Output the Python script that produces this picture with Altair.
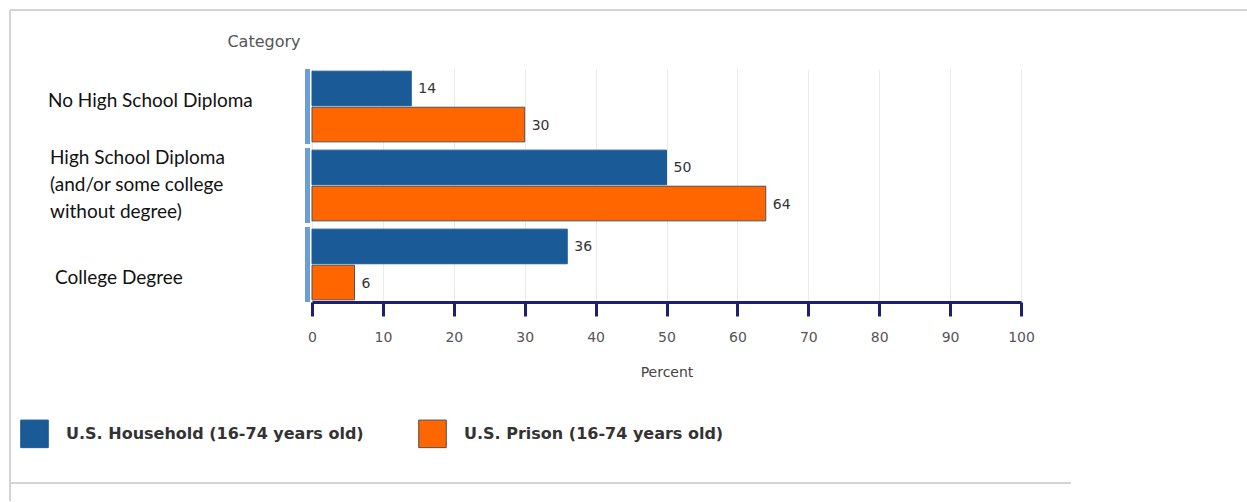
import altair as alt
import pandas as pd

categories = [
    "No High School Diploma",
    "High School Diploma (and/or some college without degree)",
    "College Degree",
]
category_labels = [
    "No High School Diploma",
    "High School Diploma\n(and/or some college\nwithout degree)",
    "College Degree",
]
series = ["U.S. Household (16-74 years old)", "U.S. Prison (16-74 years old)"]
household = [14, 50, 36]
prison = [30, 64, 6]
series_colors = ["#1a5a96", "#ff6600"]
series_strokes = ["#1a5a96", "#505050"]

rows = []
for c, h, p in zip(categories, household, prison):
    rows.append({"Category": c, "Series": series[0], "Percent": h})
    rows.append({"Category": c, "Series": series[1], "Percent": p})
df = pd.DataFrame(rows)
cat_df = pd.DataFrame({"Category": categories, "Label": category_labels})
one = pd.DataFrame({"a": [0]})

FONT = "DejaVu Sans"

y_scale = alt.Scale(domain=categories, paddingInner=0.05, paddingOuter=0)
y_enc = alt.Y(
    "Category:N",
    scale=y_scale,
    axis=alt.Axis(
        title="Category", labels=False, ticks=False, domain=False, grid=False,
        titleAngle=0, titleAlign="right", titleBaseline="middle",
        titleX=-12, titleY=-28, titleFont=FONT, titleFontSize=16,
        titleFontWeight="normal", titleColor="#555",
    ),
)
x_enc = alt.X(
    "Percent:Q",
    scale=alt.Scale(domain=[0, 100], nice=False),
    axis=alt.Axis(
        values=list(range(0, 101, 10)), title="Percent", grid=True,
        gridColor="#ebebeb", gridWidth=1,
        domainColor="#1f1f6f", domainWidth=3,
        tickColor="#1f1f6f", tickWidth=3, tickSize=14,
        labelFont=FONT, labelFontSize=14, labelColor="#555", labelPadding=14,
        labelFlush=False,
        titleFont=FONT, titleFontSize=14, titleFontWeight="normal",
        titleColor="#444", titlePadding=21,
    ),
)
yoff = alt.YOffset("Series:N", scale=alt.Scale(domain=series, paddingInner=0.04, paddingOuter=0.06))

bars = alt.Chart(df).mark_bar(strokeWidth=1).encode(
    x=x_enc,
    y=y_enc,
    yOffset=yoff,
    color=alt.Color(
        "Series:N",
        scale=alt.Scale(domain=series, range=series_colors),
        legend=alt.Legend(
            orient="none", legendX=-292, legendY=350, direction="horizontal",
            title=None, symbolType="square", symbolSize=760,
            symbolStrokeColor="#505050", symbolStrokeWidth=1, symbolOpacity=1,
            labelFont=FONT, labelFontSize=16, labelFontWeight="bold",
            labelColor="#333", labelOffset=17, labelLimit=0,
            columnPadding=52, padding=0,
        ),
    ),
    stroke=alt.Stroke("Series:N", scale=alt.Scale(domain=series, range=series_strokes), legend=None),
)

values = alt.Chart(df).mark_text(
    align="left", baseline="middle", dx=7, dy=1, font=FONT, fontSize=14, color="#333"
).encode(x="Percent:Q", y=y_enc, yOffset=yoff, text="Percent:Q")

markers = alt.Chart(cat_df).mark_bar(color="#6b9ed6").encode(
    y=y_enc, x=alt.value(-7), x2=alt.value(-2)
)

label_style = [(-264, -6), (-262, -28), (-257, 14)]
label_layers = []
for cat, (dx, dy) in zip(categories, label_style):
    label_layers.append(
        alt.Chart(cat_df).transform_filter(alt.datum.Category == cat).mark_text(
            align="left", baseline="middle", font="Lato", fontSize=19,
            color="#111", lineBreak="\n", lineHeight=27, dy=dy,
        ).encode(y=y_enc, x=alt.value(dx), text="Label:N")
    )

frame_color = "#d4d4d4"
frame_left = alt.Chart(one).mark_rule(color=frame_color, strokeWidth=2).encode(
    x=alt.value(-302), y=alt.value(-59), y2=alt.value(432)
)
frame_top = alt.Chart(one).mark_rule(color=frame_color, strokeWidth=2).encode(
    y=alt.value(-59), x=alt.value(-302), x2=alt.value(935)
)
frame_bottom = alt.Chart(one).mark_rule(color=frame_color, strokeWidth=2).encode(
    y=alt.value(414), x=alt.value(-302), x2=alt.value(759)
)

chart = alt.layer(
    frame_left, frame_top, frame_bottom, markers, bars, values, *label_layers
).properties(
    width=709, height=233,
    autosize=alt.AutoSizeParams(type="none"),
    padding={"left": 312, "top": 69, "right": 226, "bottom": 200},
    background="white",
).configure_view(stroke=None)

chart.save("out.html", embed_options={"renderer": "svg", "actions": False})
